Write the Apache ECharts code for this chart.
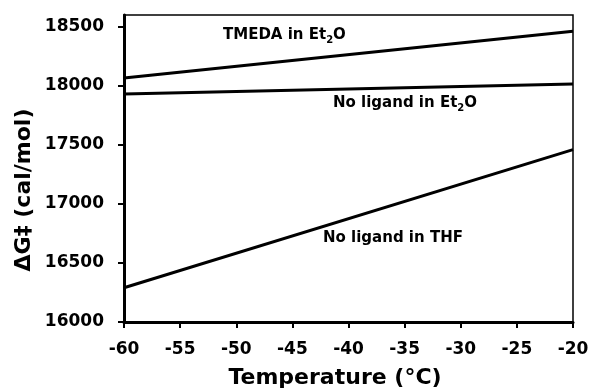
<!DOCTYPE html>
<html><head><meta charset="utf-8">
<script src="https://cdn.jsdelivr.net/npm/echarts@6/dist/echarts.min.js"></script>
<style>html,body{margin:0;padding:0;background:#fff}#c{width:591px;height:390px}</style>
</head><body><div id="c"></div>
<script>
const temps = [-60, -20];
const tmedaEt2O = [18066, 18463];
const noLigandEt2O = [17930, 18015];
const noLigandTHF = [16290, 17460];
const yTicks = [16000, 16500, 17000, 17500, 18000, 18500];
const xTicks = [-60, -55, -50, -45, -40, -35, -30, -25, -20];

const FONT = 'DejaVu Sans';
const chart = echarts.init(document.getElementById('c'), null, {renderer: 'canvas'});
function mk(name, vals) {
  return {
    name, type: 'line', data: temps.map((t, i) => [t, vals[i]]),
    symbol: 'none', lineStyle: {color: '#000', width: 3}, silent: true, animation: false
  };
}
const A = {fontFamily: FONT, fontSize: 15, fontWeight: 'bold', color: '#000'};
const S = {fontFamily: FONT, fontSize: 10, fontWeight: 'bold', color: '#000', padding: [9, 0, 0, 0]};
chart.setOption({
  animation: false,
  grid: {left: 124, right: 18, top: 15, bottom: 68, show: true, borderColor: '#000', borderWidth: 1.5,
    backgroundColor: 'transparent', containLabel: false, outerBoundsMode: 'none'},
  xAxis: {
    type: 'value', min: -60, max: -20, interval: 5,
    axisLine: {show: true, lineStyle: {color: '#000', width: 3}},
    axisTick: {show: true, length: 6, lineStyle: {color: '#000', width: 2}, customValues: xTicks},
    axisLabel: {fontFamily: FONT, fontSize: 17, fontWeight: 'bold', color: '#000', margin: 19, customValues: xTicks,
      formatter: v => String(v)},
    splitLine: {show: false}
  },
  yAxis: {
    type: 'value', min: 16000, max: 18600,
    axisLine: {show: true, lineStyle: {color: '#000', width: 3}},
    axisTick: {show: true, length: 6, lineStyle: {color: '#000', width: 2}, customValues: yTicks},
    axisLabel: {fontFamily: FONT, fontSize: 17, fontWeight: 'bold', color: '#000', margin: 20, customValues: yTicks,
      formatter: v => String(v)},
    splitLine: {show: false}
  },
  series: [mk('TMEDA in Et2O', tmedaEt2O), mk('No ligand in Et2O', noLigandEt2O), mk('No ligand in THF', noLigandTHF)],
  graphic: [
    {type: 'text', x: 335, y: 378,
      style: {text: 'Temperature (°C)', font: 'bold 22px ' + FONT, fill: '#000', align: 'center', verticalAlign: 'middle'}},
    {type: 'text', x: 24, y: 190, rotation: Math.PI / 2,
      style: {text: 'ΔG‡ (cal/mol)', font: 'bold 22px ' + FONT, fill: '#000', align: 'center', verticalAlign: 'middle'}},
    {type: 'text', left: 223, top: 28, style: {text: '{a|TMEDA in Et}{s|2}{a|O}', rich: {a: A, s: S}}},
    {type: 'text', left: 333, top: 96, style: {text: '{a|No ligand in Et}{s|2}{a|O}', rich: {a: A, s: S}}},
    {type: 'text', left: 323, top: 231, style: {text: 'No ligand in THF', font: 'bold 15px ' + FONT, fill: '#000'}}
  ]
});
</script></body></html>
